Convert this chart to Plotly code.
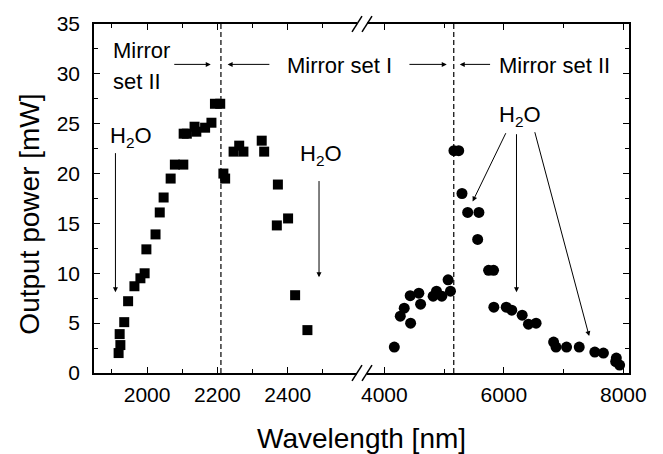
import plotly.graph_objects as go

# Mirror sets I/II, short-wavelength band (squares)
wl_short = [1919, 1924, 1922, 1935, 1946, 1964, 1981, 1993, 1998, 2024, 2036, 2047,
            2067, 2079, 2103, 2104, 2113, 2135, 2140, 2165, 2183, 2193, 2208, 2217,
            2222, 2246, 2262, 2274, 2326, 2333, 2372, 2369, 2401, 2421, 2456]
pw_short = [2.0, 2.8, 3.9, 5.1, 7.2, 8.7, 9.5, 10.0, 12.4, 13.9, 16.1, 17.6,
            19.5, 20.9, 20.9, 24.0, 24.0, 24.7, 24.2, 24.6, 25.1, 27.0, 27.0, 20.0,
            19.5, 22.2, 22.8, 22.2, 23.3, 22.2, 18.9, 14.8, 15.5, 7.8, 4.3]

# Long-wavelength band (circles)
wl_long = [4167, 4267, 4333, 4440, 4433, 4578, 4607, 4817, 4873, 4962, 5067, 5107,
           5165, 5245, 5300, 5395, 5583, 5562, 5745, 5828, 5833, 6040, 6133, 6307,
           6412, 6540, 6833, 6873, 7050, 7262, 7523, 7667, 7883, 7872, 7938]
pw_long = [2.6, 5.7, 6.5, 5.0, 7.75, 8.0, 6.9, 7.7, 8.2, 7.7, 9.35, 8.2,
           22.3, 22.3, 18.0, 16.1, 16.1, 13.4, 10.3, 10.3, 6.6, 6.6, 6.3, 5.8,
           4.9, 5.0, 3.1, 2.6, 2.6, 2.6, 2.1, 2.0, 1.5, 1.15, 0.8]

# Mirror-set boundaries
boundary_short = 2210
boundary_long = 5162

FONT = "Liberation Sans, Arial, Helvetica, sans-serif"
W, H = 663, 454
L, R, T, B = 94, 34, 16, 81
PW, PH = W - L - R, H - T - B


def px(xp):
    return (xp - L) / PW


def py(yp):
    return (H - B - yp) / PH


fig = go.Figure()
fig.add_trace(go.Scatter(x=wl_short, y=pw_short, mode="markers",
                         marker=dict(symbol="square", size=10, color="black"),
                         xaxis="x", yaxis="y", showlegend=False))
fig.add_trace(go.Scatter(x=wl_long, y=pw_long, mode="markers",
                         marker=dict(symbol="circle", size=11, color="black"),
                         xaxis="x2", yaxis="y2", showlegend=False))

axis_common = dict(showline=True, linecolor="black", linewidth=1.5,
                   ticks="inside", ticklen=6, tickwidth=1.2, tickcolor="black",
                   showgrid=False, zeroline=False,
                   tickfont=dict(family=FONT, size=21, color="black"))

fig.update_layout(
    width=W, height=H,
    margin=dict(l=L, r=R, t=T, b=B),
    paper_bgcolor="white", plot_bgcolor="white",
    font=dict(family=FONT, color="black"),
    xaxis=dict(domain=[0, px(357)], range=[1849, 2597], anchor="y",
               tickmode="linear", tick0=2000, dtick=200, mirror="ticks",
               minor=dict(dtick=100, tick0=1900, ticks="inside", ticklen=4,
                          tickcolor="black", tickwidth=1.2),
               ticklabelstandoff=2,
               **axis_common),
    xaxis2=dict(domain=[px(367), 1], range=[3710, 8095], anchor="y2",
                tickmode="linear", tick0=4000, dtick=2000, mirror="ticks",
                minor=dict(dtick=1000, tick0=3000, ticks="inside", ticklen=4,
                           tickcolor="black", tickwidth=1.2),
                ticklabelstandoff=2,
                **axis_common),
    yaxis=dict(domain=[0, 1], range=[0, 35], anchor="x",
               tickmode="linear", tick0=0, dtick=5,
               minor=dict(dtick=2.5, ticks="inside", ticklen=4,
                          tickcolor="black", tickwidth=1.2),
               ticklabelstandoff=8,
               **axis_common),
    yaxis2=dict(domain=[0, 1], range=[0, 35], anchor="x2", side="right",
                matches="y", showticklabels=False,
                tickmode="linear", tick0=0, dtick=5,
                minor=dict(dtick=2.5, ticks="inside", ticklen=4,
                           tickcolor="black", tickwidth=1.2),
                **axis_common),
)

title_font = dict(family=FONT, size=28, color="black")
# Axis titles
fig.add_annotation(text="Wavelength [nm]", xref="paper", yref="paper",
                   x=px(361), y=py(440), xanchor="center", yanchor="middle",
                   showarrow=False, font=title_font)
fig.add_annotation(text="Output power [mW]", xref="paper", yref="paper",
                   x=px(30), y=py(211), xanchor="center", yanchor="middle",
                   textangle=-90, showarrow=False, font=title_font)

# Mirror-set boundaries
fig.add_shape(type="line", xref="x", yref="y", x0=boundary_short, x1=boundary_short,
              y0=0, y1=35, line=dict(color="black", width=1.2, dash="5px,3px"))
fig.add_shape(type="line", xref="x2", yref="y2", x0=boundary_long, x1=boundary_long,
              y0=0, y1=35, line=dict(color="black", width=1.2, dash="5px,3px"))

# Axis break marks (bottom and top)
for yc in (373, 16):
    for xc in (357, 367):
        fig.add_shape(type="line", xref="paper", yref="paper",
                      x0=px(xc - 5), y0=py(yc + 8), x1=px(xc + 5), y1=py(yc - 8),
                      line=dict(color="black", width=1.5))

txt = dict(family=FONT, size=22, color="black")

# Mirror-set labels
fig.add_annotation(text="Mirror", xref="x", yref="y", x=1898, y=32.3,
                   xanchor="left", yanchor="middle", showarrow=False, font=txt)
fig.add_annotation(text="set II", xref="x", yref="y", x=1898, y=29.2,
                   xanchor="left", yanchor="middle", showarrow=False, font=txt)
fig.add_annotation(text="Mirror set I", xref="x", yref="y", x=2547, y=30.8,
                   xanchor="center", yanchor="middle", showarrow=False, font=txt)
fig.add_annotation(text="Mirror set II", xref="x2", yref="y2", x=6845, y=30.8,
                   xanchor="center", yanchor="middle", showarrow=False, font=txt)

arrow = dict(showarrow=True, arrowhead=2, arrowsize=1, arrowwidth=1,
             arrowcolor="black", text="")
# horizontal arrows towards the boundaries
for tail, head in ((2073, 2181), (2352, 2229)):
    fig.add_annotation(xref="x", yref="y", axref="x", ayref="y",
                       x=head, y=30.95, ax=tail, ay=30.95, **arrow)
for tail, head in ((4395, 5045), (5795, 5262)):
    fig.add_annotation(xref="x2", yref="y2", axref="x2", ayref="y2",
                       x=head, y=30.95, ax=tail, ay=30.95, **arrow)

# Water absorption labels
h2o = "H<sub>2</sub>O"
fig.add_annotation(text=h2o, xref="x", yref="y", x=1955, y=23.7,
                   xanchor="center", yanchor="middle", showarrow=False, font=txt)
fig.add_annotation(xref="x", yref="y", axref="x", ayref="y",
                   x=1910, y=8.1, ax=1910, ay=22.2, **arrow)
fig.add_annotation(text=h2o, xref="x", yref="y", x=2495, y=21.9,
                   xanchor="center", yanchor="middle", showarrow=False, font=txt)
fig.add_annotation(xref="x", yref="y", axref="x", ayref="y",
                   x=2489, y=9.6, ax=2489, ay=19.4, **arrow)
fig.add_annotation(text=h2o, xref="x2", yref="y2", x=6278, y=25.75,
                   xanchor="center", yanchor="middle", showarrow=False, font=txt)
for (tx, ty), (hx, hy) in (((6045, 24.2), (5478, 17.2)),
                           ((6212, 24.1), (6212, 8.1)),
                           ((6512, 24.3), (7428, 3.7))):
    fig.add_annotation(xref="x2", yref="y2", axref="x2", ayref="y2",
                       x=hx, y=hy, ax=tx, ay=ty, **arrow)

fig.write_html("out.html")
